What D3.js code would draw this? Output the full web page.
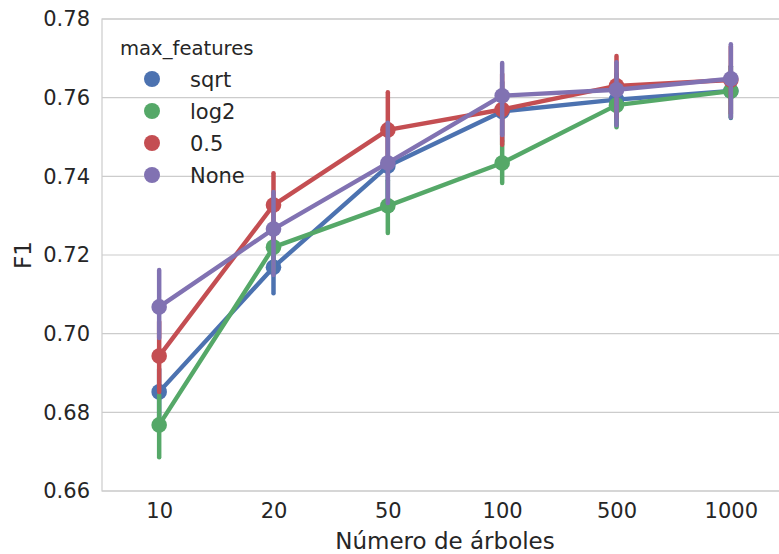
<!DOCTYPE html>
<html>
<head>
<meta charset="utf-8">
<script src="https://cdn.jsdelivr.net/npm/d3@7/dist/d3.min.js"></script>
<style>
  html, body { margin: 0; padding: 0; background: #fff; }
  svg { display: block; font-family: "DejaVu Sans", sans-serif; }
</style>
</head>
<body>
<svg id="chart" width="779" height="554"></svg>
<script>
const categories = ["10", "20", "50", "100", "500", "1000"];
const seriesNames = ["sqrt", "log2", "0.5", "None"];
const seriesColors = ["#4C72B0", "#55A868", "#C44E52", "#8172B2"];

const sqrtMean  = [0.6852, 0.7169, 0.7426, 0.7565, 0.7595, 0.7617];
const sqrtLow   = [0.6790, 0.7103, 0.7330, 0.7490, 0.7530, 0.7548];
const sqrtHigh  = [0.6910, 0.7230, 0.7520, 0.7640, 0.7660, 0.7680];

const log2Mean  = [0.6768, 0.7220, 0.7325, 0.7434, 0.7581, 0.7617];
const log2Low   = [0.6686, 0.7160, 0.7256, 0.7383, 0.7525, 0.7550];
const log2High  = [0.6844, 0.7280, 0.7390, 0.7490, 0.7640, 0.7680];

const halfMean  = [0.6943, 0.7327, 0.7518, 0.7570, 0.7630, 0.7645];
const halfLow   = [0.6852, 0.7240, 0.7420, 0.7480, 0.7550, 0.7560];
const halfHigh  = [0.7030, 0.7408, 0.7614, 0.7660, 0.7706, 0.7730];

const noneMean  = [0.7068, 0.7266, 0.7434, 0.7605, 0.7620, 0.7648];
const noneLow   = [0.6989, 0.7149, 0.7332, 0.7505, 0.7530, 0.7551];
const noneHigh  = [0.7162, 0.7360, 0.7536, 0.7688, 0.7690, 0.7736];

const yTicks = [0.66, 0.68, 0.70, 0.72, 0.74, 0.76, 0.78];
const xLabel = "Número de árboles";
const yLabel = "F1";
const legendTitle = "max_features";

const series = [
  { name: seriesNames[0], color: seriesColors[0], mean: sqrtMean, low: sqrtLow, high: sqrtHigh },
  { name: seriesNames[1], color: seriesColors[1], mean: log2Mean, low: log2Low, high: log2High },
  { name: seriesNames[2], color: seriesColors[2], mean: halfMean, low: halfLow, high: halfHigh },
  { name: seriesNames[3], color: seriesColors[3], mean: noneMean, low: noneLow, high: noneHigh }
];

(function () {
const svg = d3.select("#chart");
const pL = 102, pT = 19, pB = 491, pR = 788;
const textColor = "#262626";
const gridColor = "#cccccc";

const x = d3.scalePoint().domain(categories).range([pL, pR]).padding(0.5);
const y = d3.scaleLinear().domain([0.66, 0.78]).range([pB, pT]);

// grid
svg.append("g").selectAll("line").data(yTicks).join("line")
  .attr("x1", pL).attr("x2", pR)
  .attr("y1", d => y(d)).attr("y2", d => y(d))
  .attr("stroke", gridColor).attr("stroke-width", 1.2);

// frame
svg.append("rect").attr("x", pL).attr("y", pT)
  .attr("width", pR - pL).attr("height", pB - pT)
  .attr("fill", "none").attr("stroke", gridColor).attr("stroke-width", 1.2);

// y axis
const yAxis = d3.axisLeft(y).tickValues(yTicks).tickFormat(d3.format(".2f")).tickSize(0).tickPadding(12);
const gy = svg.append("g").attr("transform", `translate(${pL},0)`).call(yAxis);
gy.select(".domain").remove();
gy.selectAll("text").attr("font-size", 21).attr("fill", textColor)
  .attr("font-family", "DejaVu Sans");

// x axis
const xAxis = d3.axisBottom(x).tickSize(0).tickPadding(12);
const gx = svg.append("g").attr("transform", `translate(0,${pB})`).call(xAxis);
gx.select(".domain").remove();
gx.selectAll("text").attr("font-size", 21).attr("fill", textColor)
  .attr("font-family", "DejaVu Sans");

// axis labels
svg.append("text").attr("x", 445).attr("y", 549)
  .attr("text-anchor", "middle").attr("font-size", 23).attr("fill", textColor)
  .text(xLabel);
svg.append("text").attr("transform", `translate(31,${(pT + pB) / 2}) rotate(-90)`)
  .attr("text-anchor", "middle").attr("font-size", 23).attr("fill", textColor)
  .text(yLabel);

// series
const line = d3.line().x(d => x(d.c)).y(d => y(d.v));
series.forEach(s => {
  const g = svg.append("g");
  const pts = categories.map((c, i) => ({ c, v: s.mean[i], lo: s.low[i], hi: s.high[i] }));
  g.append("path").datum(pts).attr("d", line)
    .attr("fill", "none").attr("stroke", s.color).attr("stroke-width", 4.4)
    .attr("stroke-linejoin", "round");
  g.selectAll("line.err").data(pts).join("line").attr("class", "err")
    .attr("x1", d => x(d.c)).attr("x2", d => x(d.c))
    .attr("y1", d => y(d.lo)).attr("y2", d => y(d.hi))
    .attr("stroke", s.color).attr("stroke-width", 4.5).attr("stroke-linecap", "round");
  g.selectAll("circle").data(pts).join("circle")
    .attr("cx", d => x(d.c)).attr("cy", d => y(d.v)).attr("r", 7.8)
    .attr("fill", s.color);
});

// legend
const lg = svg.append("g");
lg.append("text").attr("x", 120).attr("y", 55).attr("font-size", 19.6).attr("fill", textColor)
  .text(legendTitle);
series.forEach((s, i) => {
  const cy = 79 + i * 32;
  lg.append("circle").attr("cx", 152).attr("cy", cy).attr("r", 8).attr("fill", s.color);
  lg.append("text").attr("x", 190).attr("y", cy + 7.5).attr("font-size", 21).attr("fill", textColor)
    .text(s.name);
});
})();
</script>
</body>
</html>
